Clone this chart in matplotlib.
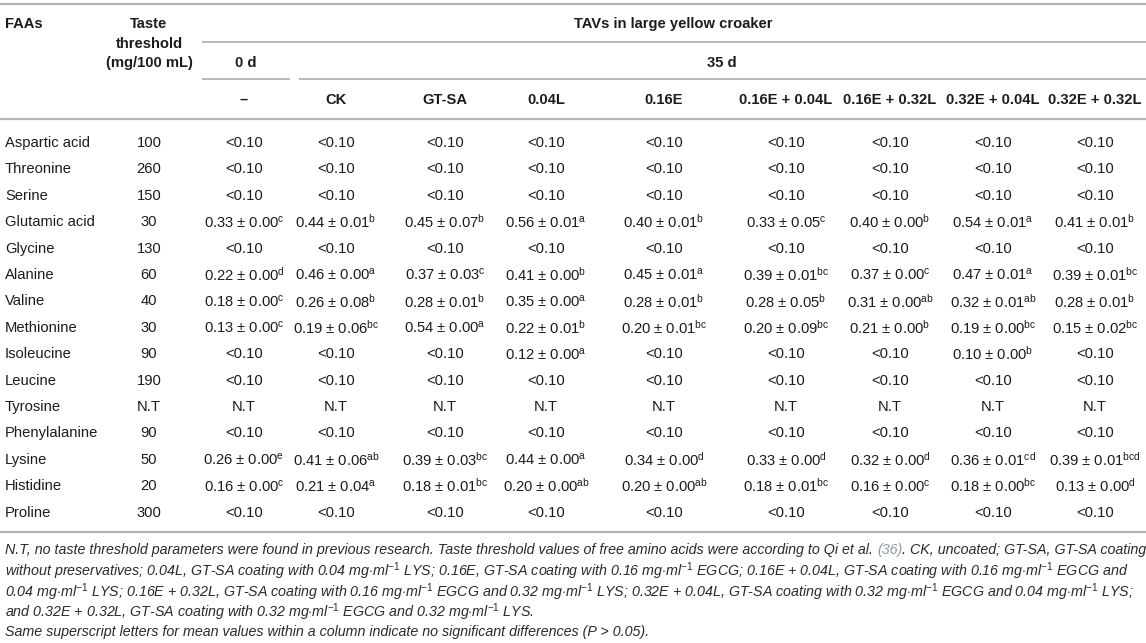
import matplotlib
matplotlib.use("Agg")
import matplotlib.pyplot as plt

plt.rcParams['font.family'] = ['Liberation Sans', 'DejaVu Sans']
plt.rcParams['mathtext.fontset'] = 'custom'
plt.rcParams['mathtext.rm'] = 'Liberation Sans'
plt.rcParams['mathtext.it'] = 'Liberation Sans:italic'
plt.rcParams['mathtext.bf'] = 'Liberation Sans:bold'

# table content
faas = ['Aspartic acid', 'Threonine', 'Serine', 'Glutamic acid', 'Glycine', 'Alanine',
        'Valine', 'Methionine', 'Isoleucine', 'Leucine', 'Tyrosine', 'Phenylalanine',
        'Lysine', 'Histidine', 'Proline']
thresholds = ['100', '260', '150', '30', '130', '60', '40', '30', '90', '190', 'N.T', '90',
              '50', '20', '300']
groups = ['–', 'CK', 'GT-SA', '0.04L', '0.16E', '0.16E + 0.04L', '0.16E + 0.32L',
          '0.32E + 0.04L', '0.32E + 0.32L']

L = '<0.10'
N = 'N.T'
tav_0d = [L, L, L, '0.33 ± 0.00^c', L, '0.22 ± 0.00^d', '0.18 ± 0.00^c', '0.13 ± 0.00^c',
          L, L, N, L, '0.26 ± 0.00^e', '0.16 ± 0.00^c', L]
tav_ck = [L, L, L, '0.44 ± 0.01^b', L, '0.46 ± 0.00^a', '0.26 ± 0.08^b', '0.19 ± 0.06^bc',
          L, L, N, L, '0.41 ± 0.06^ab', '0.21 ± 0.04^a', L]
tav_gtsa = [L, L, L, '0.45 ± 0.07^b', L, '0.37 ± 0.03^c', '0.28 ± 0.01^b', '0.54 ± 0.00^a',
            L, L, N, L, '0.39 ± 0.03^bc', '0.18 ± 0.01^bc', L]
tav_004l = [L, L, L, '0.56 ± 0.01^a', L, '0.41 ± 0.00^b', '0.35 ± 0.00^a', '0.22 ± 0.01^b',
            '0.12 ± 0.00^a', L, N, L, '0.44 ± 0.00^a', '0.20 ± 0.00^ab', L]
tav_016e = [L, L, L, '0.40 ± 0.01^b', L, '0.45 ± 0.01^a', '0.28 ± 0.01^b', '0.20 ± 0.01^bc',
            L, L, N, L, '0.34 ± 0.00^d', '0.20 ± 0.00^ab', L]
tav_016e_004l = [L, L, L, '0.33 ± 0.05^c', L, '0.39 ± 0.01^bc', '0.28 ± 0.05^b',
                 '0.20 ± 0.09^bc', L, L, N, L, '0.33 ± 0.00^d', '0.18 ± 0.01^bc', L]
tav_016e_032l = [L, L, L, '0.40 ± 0.00^b', L, '0.37 ± 0.00^c', '0.31 ± 0.00^ab',
                 '0.21 ± 0.00^b', L, L, N, L, '0.32 ± 0.00^d', '0.16 ± 0.00^c', L]
tav_032e_004l = [L, L, L, '0.54 ± 0.01^a', L, '0.47 ± 0.01^a', '0.32 ± 0.01^ab',
                 '0.19 ± 0.00^bc', '0.10 ± 0.00^b', L, N, L, '0.36 ± 0.01^cd',
                 '0.18 ± 0.00^bc', L]
tav_032e_032l = [L, L, L, '0.41 ± 0.01^b', L, '0.39 ± 0.01^bc', '0.28 ± 0.01^b',
                 '0.15 ± 0.02^bc', L, L, N, L, '0.39 ± 0.01^bcd', '0.13 ± 0.00^d', L]
columns = [tav_0d, tav_ck, tav_gtsa, tav_004l, tav_016e, tav_016e_004l, tav_016e_032l,
           tav_032e_004l, tav_032e_032l]

mml = r'mg$\cdot$ml$^{\mathrm{-1}}$'
note_lines = [
    None,  # first line is drawn in pieces (grey reference number)
    'without preservatives; 0.04L, GT-SA coating with 0.04 ' + mml + ' LYS; 0.16E, GT-SA coating with 0.16 '
    + mml + ' EGCG; 0.16E + 0.04L, GT-SA coating with 0.16 ' + mml + ' EGCG and',
    '0.04 ' + mml + ' LYS; 0.16E + 0.32L, GT-SA coating with 0.16 ' + mml + ' EGCG and 0.32 ' + mml
    + ' LYS; 0.32E + 0.04L, GT-SA coating with 0.32 ' + mml + ' EGCG and 0.04 ' + mml + ' LYS;',
    'and 0.32E + 0.32L, GT-SA coating with 0.32 ' + mml + ' EGCG and 0.32 ' + mml + ' LYS.',
    'Same superscript letters for mean values within a column indicate no significant differences (P > 0.05).',
]
note_first = ['N.T, no taste threshold parameters were found in previous research. Taste threshold '
              'values of free amino acids were according to Qi et al. ', '(36)',
              '. CK, uncoated; GT-SA, GT-SA coating']

# layout
W, H = 1146, 643
col_x = [244, 336, 445, 546, 664, 786, 890, 993, 1095]
row_y0, row_dy = 143, 26.4
fs = 10.6
txt = '#1c1c1c'
rule = '#b4b4b4'

fig = plt.figure(figsize=(W / 100, H / 100), dpi=100)
ax = fig.add_axes([0, 0, 1, 1])
ax.set_xlim(0, W)
ax.set_ylim(H, 0)
ax.axis('off')


def cell(s):
    if '^' in s:
        v, sup = s.split('^')
        return v + r'$^{\mathrm{' + sup + '}}$'
    return s


# rules
ax.hlines([4, 119, 532], 0, W, color=rule, lw=1.6)
ax.hlines(42, 202, W, color=rule, lw=1.3)
ax.hlines(79, 202, 290, color=rule, lw=1.3)
ax.hlines(79, 299, W, color=rule, lw=1.3)

# header
hb = dict(fontsize=fs, fontweight='bold', color=txt, va='center')
ax.text(5, 24, 'FAAs', ha='left', **hb)
ax.text(149, 24, 'Taste', ha='center', **hb)
ax.text(149, 44, 'threshold', ha='center', **hb)
ax.text(149, 63, '(mg/100 mL)', ha='center', **hb)
ax.text(673, 24, 'TAVs in large yellow croaker', ha='center', **hb)
ax.text(246, 63, '0 d', ha='center', **hb)
ax.text(722, 63, '35 d', ha='center', **hb)
for x, g in zip(col_x, groups):
    ax.text(x, 100, g, ha='center', **hb)

# body
for i, name in enumerate(faas):
    y = row_y0 + i * row_dy
    ax.text(5, y, name, ha='left', va='center', fontsize=fs, color=txt)
    ax.text(149, y, thresholds[i], ha='center', va='center', fontsize=fs, color=txt)
    for x, col in zip(col_x, columns):
        ax.text(x, y, cell(col[i]), ha='center', va='center', fontsize=fs, color=txt)

# footnote
nfs = 10.25
note_y = [550, 571, 592, 612, 632]
fig.canvas.draw()
r = fig.canvas.get_renderer()
x = 5
for part, c in zip(note_first, ['#2a2a2a', '#8a9bb0', '#2a2a2a']):
    t = ax.text(x, note_y[0], part, ha='left', va='center', fontsize=nfs, style='italic', color=c)
    bb = t.get_window_extent(r)
    x += bb.width
for y, s in zip(note_y[1:], note_lines[1:]):
    ax.text(5, y, s, ha='left', va='center', fontsize=nfs, style='italic', color='#2a2a2a')

fig.savefig('out.png', dpi=100)
